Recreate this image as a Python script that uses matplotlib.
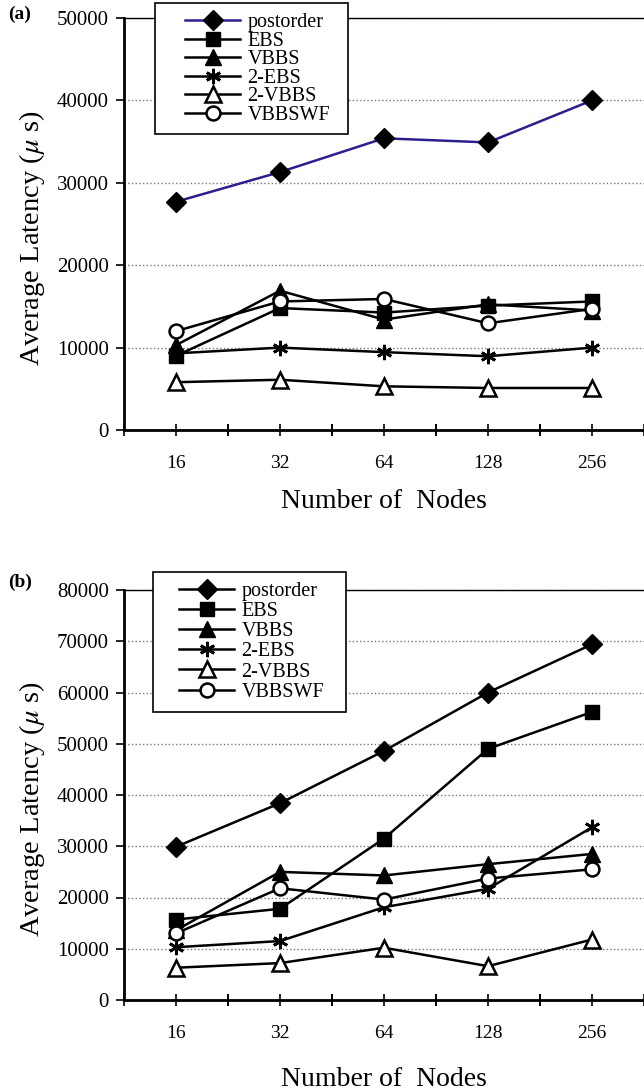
import matplotlib
matplotlib.use('Agg')
import matplotlib.pyplot as plt
from matplotlib.patches import Rectangle

plt.rcParams['font.family'] = ['Liberation Serif', 'DejaVu Serif']
plt.rcParams['mathtext.fontset'] = 'stix'

nodes = ['16', '32', '64', '128', '256']
labels = ['postorder', 'EBS', 'VBBS', '2-EBS', '2-VBBS', 'VBBSWF']

# panel (a)
a_postorder = [27700, 31300, 35400, 34900, 40000]
a_ebs = [9000, 14800, 14250, 15100, 15600]
a_vbbs = [10300, 16900, 13400, 15250, 14500]
a_2ebs = [9300, 10000, 9450, 8950, 10000]
a_2vbbs = [5800, 6100, 5300, 5100, 5100]
a_vbbswf = [12000, 15600, 15900, 12950, 14700]

# panel (b)
b_postorder = [29900, 38400, 48600, 60000, 69400]
b_ebs = [15700, 17800, 31500, 49000, 56200]
b_vbbs = [13600, 25000, 24300, 26500, 28500]
b_2ebs = [10300, 11500, 18100, 21700, 33700]
b_2vbbs = [6300, 7200, 10200, 6600, 11800]
b_vbbswf = [13000, 21800, 19600, 23700, 25500]

styles = [
    dict(marker='D', ms=10, mfc='black'),
    dict(marker='s', ms=10, mfc='black'),
    dict(marker='^', ms=11, mfc='black'),
    dict(marker=(6, 2, 0), ms=11, mew=2),
    dict(marker='^', ms=11, mfc='white', mew=1.8),
    dict(marker='o', ms=10, mfc='white', mew=1.8),
]

fig = plt.figure(figsize=(6.44, 10.91), dpi=100)
ax_a = fig.add_axes([124/644, 1-430/1091, 1-124/644, 412/1091])
ax_b = fig.add_axes([124/644, 1-1000/1091, 1-124/644, 410/1091])


def px(x, y):
    return x/644, 1 - y/1091


def draw(ax, series, colors, ymax, box, leg_xy, spacing, xlpad, tag, tag_y):
    x = list(range(len(nodes)))
    for ys, st, c, lab in zip(series, styles, colors, labels):
        ax.plot(x, ys, color=c, lw=1.8, mec='black', label=lab, zorder=3, **st)
    ax.set_xlim(-0.5, 4.5)
    ax.set_ylim(0, ymax)
    ax.set_yticks(range(0, ymax + 1, 10000))
    ax.set_xticks(x)
    ax.set_xticklabels(nodes)
    ax.set_xticks([-0.5 + i for i in range(6)] + [0.5, 1.5, 2.5, 3.5], minor=True)
    ax.tick_params(axis='x', which='both', direction='inout', length=8, width=1.2,
                   pad=14, labelsize=14)
    ax.tick_params(axis='y', direction='out', length=6, width=1.2, pad=5, labelsize=15)
    ax.grid(axis='y', ls=':', color='#777777', lw=1)
    ax.set_axisbelow(True)
    ax.spines['right'].set_visible(False)
    ax.spines['left'].set_linewidth(2)
    ax.spines['bottom'].set_linewidth(2)
    ax.spines['top'].set_linewidth(1)
    ax.set_xlabel('Number of  Nodes', fontsize=20, labelpad=xlpad)
    ax.set_ylabel('Average Latency ($\\mu$ s)', fontsize=20.5)
    ax.yaxis.set_label_coords(-0.148, 0.466)

    # legend frame drawn separately so the box is as wide as in the original
    x0, y0, x1, y1 = box
    bx, by = px(x0, y1)
    ax.add_patch(Rectangle((bx, by), (x1 - x0)/644, (y1 - y0)/1091,
                           transform=fig.transFigure, clip_on=False,
                           facecolor='white', edgecolor='black', lw=1.2, zorder=4))
    leg = ax.legend(loc='upper left', bbox_to_anchor=px(*leg_xy), bbox_transform=fig.transFigure,
                    borderaxespad=0, borderpad=0, fontsize=14.5, handlelength=2.75,
                    handletextpad=0.35, labelspacing=spacing, frameon=False)
    leg.set_zorder(5)
    fig.text(8/644, tag_y, tag, fontsize=14, fontweight='bold', va='center')


draw(ax_a, [a_postorder, a_ebs, a_vbbs, a_2ebs, a_2vbbs, a_vbbswf],
     ['#2b1f8f'] + ['black'] * 5, 50000, (155, 3, 348, 134), (185, 13), -0.03, 12,
     '(a)', 1-14/1091)
draw(ax_b, [b_postorder, b_ebs, b_vbbs, b_2ebs, b_2vbbs, b_vbbswf],
     ['black'] * 6, 80000, (153, 572, 346, 712), (179, 582), 0.05, 18,
     '(b)', 1-582/1091)

fig.savefig('out.png', dpi=100)
